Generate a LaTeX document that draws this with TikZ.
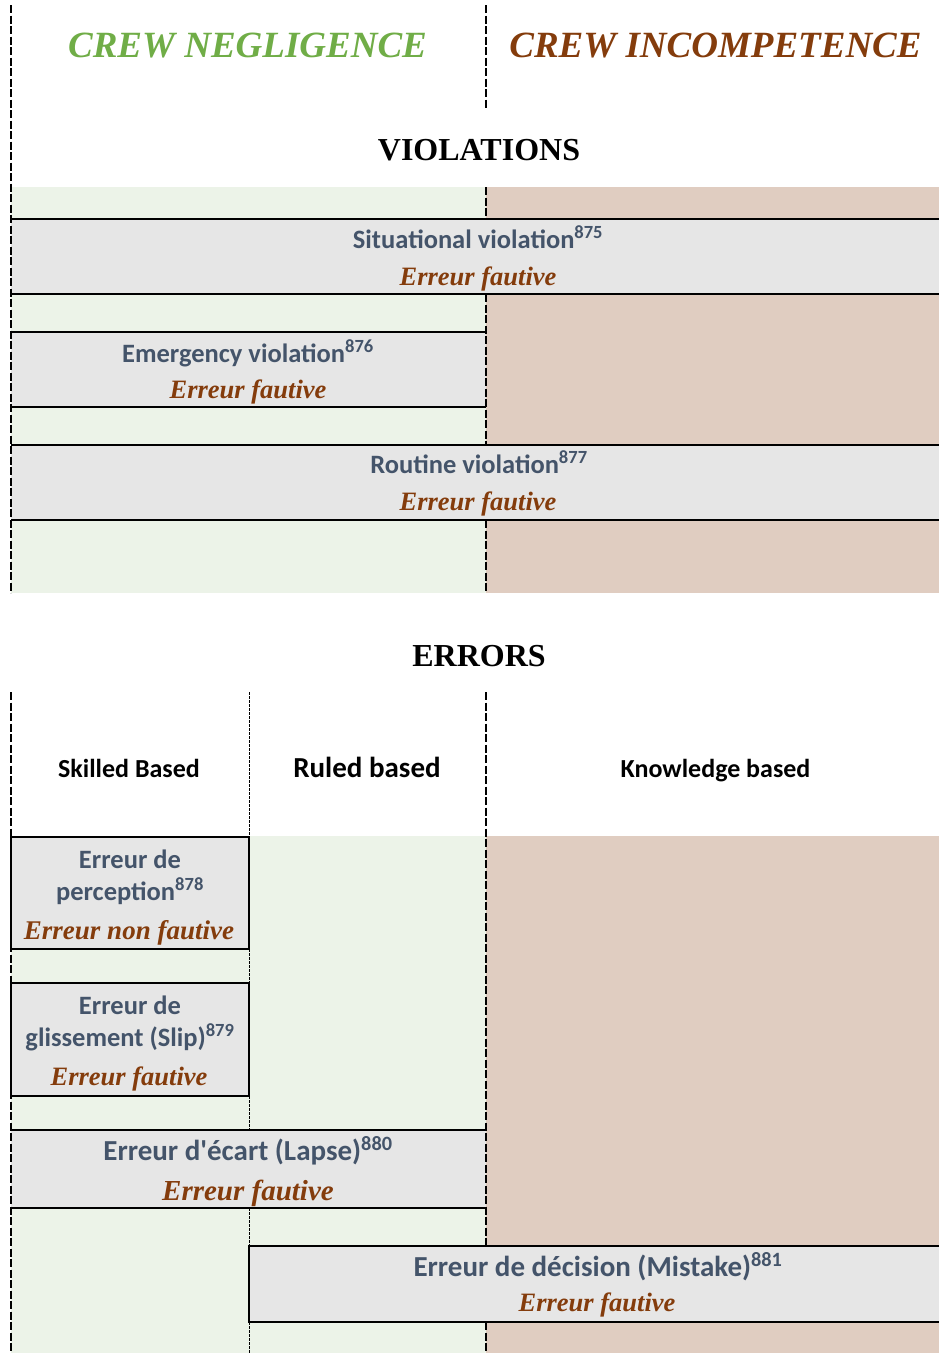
\documentclass[tikz,border=0pt]{standalone}
\usepackage{fontspec}
\setmainfont{Liberation Serif}
\newfontfamily\calibfont{Carlito}
\usetikzlibrary{calc}
\definecolor{neglcol}{HTML}{70AD47}
\definecolor{incompcol}{HTML}{843C0C}
\definecolor{greyblue}{HTML}{44546A}
\definecolor{neglfill}{HTML}{ECF3E8}
\definecolor{incompfill}{HTML}{E0CDC1}
\definecolor{boxfill}{HTML}{E6E6E6}
\newcommand{\fsz}[1]{\fontsize{#1}{#1}\selectfont}
\newcommand{\zone}[5]{ \fill[#5] ( #1 , #2 ) rectangle ( #3 , #4 );}
\newcommand{\band}[4]{ \fill[boxfill] ( #1 , #2 ) rectangle ( #3 , #4 );
  \draw[bandline] ( #1 , #2 ) -- ( #3 , #2 ) ( #1 , #4 ) -- ( #3 , #4 );}
\newcommand{\cellbox}[4]{ \filldraw[bandline,fill=boxfill] ( #1 , #2 ) rectangle ( #3 , #4 );}
\tikzset{
  crewtitle/.style={font=\fsz{37}\bfseries\itshape, anchor=base, inner sep=0pt},
  parttitle/.style={font=\fsz{32}\bfseries, anchor=base, inner sep=0pt},
  colhead/.style={font=\calibfont\fsz{26}\bfseries, anchor=base, inner sep=0pt},
  errname/.style={font=\calibfont\fsz{26.5}\bfseries, text=greyblue, anchor=base, inner sep=0pt},
  verdict/.style={font=\fsz{26.5}\bfseries\itshape, text=incompcol, anchor=base, inner sep=0pt},
  bandline/.style={line width=2pt},
  sepline/.style={line width=1.8pt, dash pattern=on 8pt off 2.5pt},
  thinsep/.style={line width=0.7pt, dash pattern=on 3pt off 1pt}
}

\begin{document}
\begin{tikzpicture}[x=1pt,y=-1pt]
        \useasboundingbox (0,0) rectangle (939,1353);

        % violations part
        \zone{11}{187}{486}{593}{neglfill}
        \zone{486}{187}{939}{593}{incompfill}
        \band{11}{219}{939}{294}
        \band{11}{332}{486}{407}
        \band{11}{445}{939}{520}

        \node[crewtitle, text=neglcol] (negl) at (247.5,57) {CREW NEGLIGENCE};
        \node[crewtitle, text=incompcol] (incomp) at (715.5,57) {CREW INCOMPETENCE};
        \node[parttitle] (viol) at (479,160) {VIOLATIONS};

        \node[errname] (situ) at (478,248) {Situational violation\textsuperscript{875}};
        \node[verdict] (situv) at (478,285) {Erreur fautive};
        \node[errname] (emerg) at (248,362) {Emergency violation\textsuperscript{876}};
        \node[verdict] (emergv) at (248,398) {Erreur fautive};
        \node[errname] (rout) at (479,473) {Routine violation\textsuperscript{877}};
        \node[verdict] (routv) at (478,510) {Erreur fautive};

        \draw[sepline] (11,5) -- (11,593);
        \draw[sepline] (486,5) -- (486,108);
        \draw[sepline] (486,187) -- (486,219);
        \draw[sepline] (486,294) -- (486,445);
        \draw[sepline] (486,520) -- (486,593);

        % errors part
        \node[parttitle] (err) at (479,666) {ERRORS};

        \zone{11}{836}{486}{1353}{neglfill}
        \zone{486}{836}{939}{1353}{incompfill}
        \cellbox{11}{837}{249}{949}
        \cellbox{11}{983}{249}{1096}
        \band{11}{1130}{486}{1208}
        \cellbox{249}{1246}{945}{1322}

        \node[colhead] (skill) at (129,777) {Skilled Based};
        \node[colhead, font=\calibfont\fsz{29}\bfseries] (rule) at (367,777) {Ruled based};
        \node[colhead] (know) at (715.5,777) {Knowledge based};

        \node[errname] (perc) at (130,868) {Erreur de};
        \node[errname] (perc2) at (130,900) {perception\textsuperscript{878}};
        \node[verdict, font=\fsz{27}\bfseries\itshape] (percv) at (129,939) {Erreur non fautive};

        \node[errname] (slip) at (130,1014) {Erreur de};
        \node[errname] (slip2) at (130,1046) {glissement (Slip)\textsuperscript{879}};
        \node[verdict] (slipv) at (129,1085) {Erreur fautive};

        \node[errname, font=\calibfont\fsz{29}\bfseries] (lapse) at (248,1160) {Erreur d'écart (Lapse)\textsuperscript{880}};
        \node[verdict, font=\fsz{29}\bfseries\itshape] (lapsev) at (248,1200) {Erreur fautive};

        \node[errname, font=\calibfont\fsz{29}\bfseries] (mist) at (598,1276) {Erreur de décision (Mistake)\textsuperscript{881}};
        \node[verdict] (mistv) at (597,1311) {Erreur fautive};

        \draw[sepline] (11,692) -- (11,1353);
        \draw[sepline] (486,692) -- (486,1246);
        \draw[sepline] (486,1322) -- (486,1353);
        \draw[thinsep] (249,692) -- (249,837);
        \draw[thinsep] (249,949) -- (249,983);
        \draw[thinsep] (249,1096) -- (249,1130);
        \draw[thinsep] (249,1208) -- (249,1246);
        \draw[thinsep] (249,1322) -- (249,1353);
    \end{tikzpicture}
\end{document}
